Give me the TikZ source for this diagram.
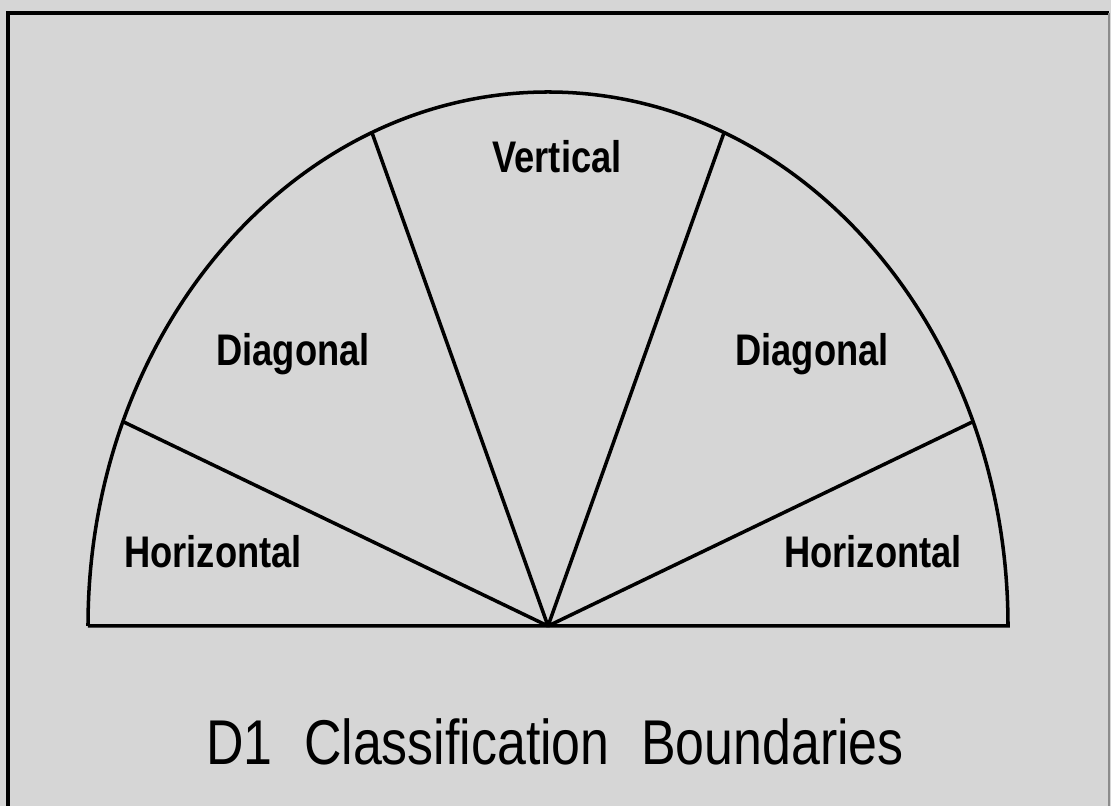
\documentclass[tikz,border=0pt]{standalone}
\usepackage{fontspec}
\setmainfont{Liberation Sans}
\newfontfamily\narrowfont[FakeStretch=0.82]{Liberation Sans}
\usetikzlibrary{positioning}
\tikzstyle{sector} = [font=\narrowfont\bfseries\fontsize{12.6}{14}\selectfont,
                      anchor=base, inner sep=0pt]
\tikzstyle{boundary} = [line width=1pt]
\tikzstyle{heading} = [font=\narrowfont\fontsize{18}{22}\selectfont,
                       anchor=base, inner sep=0pt]

\begin{document}
\begin{tikzpicture}
    \fill [black!16] (0,0) rectangle (11.11,8.06);
    \useasboundingbox (0,0) rectangle (11.11,8.06);
    \draw [line width=1.2pt] (0.08,0) -- (0.08,7.93) -- (11.09,7.93);
    \draw [black!45, line width=0.6pt] (11.09,7.93) -- (11.09,0);

    % half ellipse with the four boundaries
    \coordinate (apex) at (5.48,1.80);
    \draw [boundary] (apex) ++(-4.60,0) coordinate (left)
        arc [start angle=180, end angle=0, x radius=4.60, y radius=5.34]
        coordinate (right) -- (left);
    \foreach \a/\n in {22.5/b1, 67.5/b2, 112.5/b3, 157.5/b4}
        \path (apex) ++(\a:4.60 and 5.34) coordinate (\n);
    \draw [boundary] (apex) -- (b1);
    \draw [boundary] (apex) -- (b2);
    \draw [boundary] (apex) -- (b3);
    \draw [boundary] (apex) -- (b4);

    \node [sector] (vert) at (5.57,6.33) {Vertical};
    \node [sector] (diagl) at (2.93,4.40) {Diagonal};
    \node [sector] (diagr) at (8.12,4.40) {Diagonal};
    \node [sector] (horl) at (2.13,2.38) {Horizontal};
    \node [sector] (horr) at (8.73,2.38) {Horizontal};

    \node [heading] (title) at (5.55,0.41)
        {D1\hspace{0.5em}Classification\hspace{0.5em}Boundaries};
\end{tikzpicture}
\end{document}
